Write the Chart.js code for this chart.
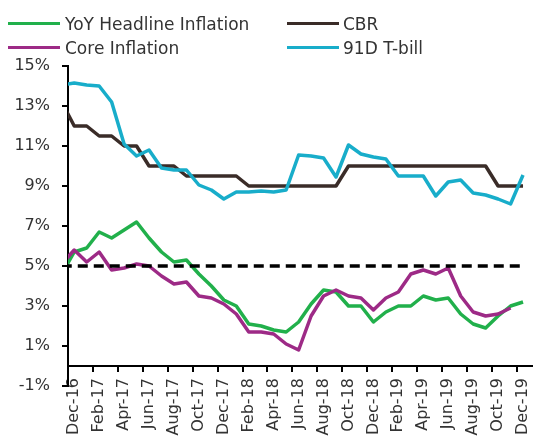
<!DOCTYPE html>
<html>
<head>
<meta charset="utf-8">
<script src="https://cdn.jsdelivr.net/npm/chart.js@4.4.1/dist/chart.umd.min.js"></script>
<style>
	html, body { margin: 0; padding: 0; background: #fff; }
	#wrap { position: relative; width: 533px; height: 440px; }
	#legend { position: absolute; left: 0; top: 0; font: 17px "DejaVu Sans", sans-serif; color: #333; }
	#legend .txt { position: absolute; white-space: nowrap; line-height: 20px; }
	#legend .swatch { position: absolute; height: 3.5px; width: 52px; }
</style>
</head>
<body>
<div id="wrap">
	<canvas id="inflation" width="533" height="440"></canvas>
	<div id="legend"></div>
</div>
<script>
// Nov-16 .. Dec-19, Nov-16 only feeds the clipped stub at the left edge
var months = [
	'Nov-16', 'Dec-16',
	'Jan-17', 'Feb-17', 'Mar-17', 'Apr-17', 'May-17', 'Jun-17', 'Jul-17', 'Aug-17', 'Sep-17', 'Oct-17', 'Nov-17', 'Dec-17',
	'Jan-18', 'Feb-18', 'Mar-18', 'Apr-18', 'May-18', 'Jun-18', 'Jul-18', 'Aug-18', 'Sep-18', 'Oct-18', 'Nov-18', 'Dec-18',
	'Jan-19', 'Feb-19', 'Mar-19', 'Apr-19', 'May-19', 'Jun-19', 'Jul-19', 'Aug-19', 'Sep-19', 'Oct-19', 'Nov-19', 'Dec-19'
];
var tickLabels = [ 'Dec-16', 'Feb-17', 'Apr-17', 'Jun-17', 'Aug-17', 'Oct-17', 'Dec-17', 'Feb-18', 'Apr-18', 'Jun-18',
	'Aug-18', 'Oct-18', 'Dec-18', 'Feb-19', 'Apr-19', 'Jun-19', 'Aug-19', 'Oct-19', 'Dec-19' ];

var headline = [ 4.6, 5.7,
	5.9, 6.7, 6.4, 6.8, 7.2, 6.4, 5.7, 5.2, 5.3, 4.6, 4.0, 3.3,
	3.0, 2.1, 2.0, 1.8, 1.7, 2.2, 3.1, 3.8, 3.7, 3.0, 3.0, 2.2,
	2.7, 3.0, 3.0, 3.5, 3.3, 3.4, 2.6, 2.1, 1.9, 2.5, 3.0, 3.2 ];
var core = [ 5.1, 5.8,
	5.2, 5.7, 4.8, 4.9, 5.1, 5.0, 4.5, 4.1, 4.2, 3.5, 3.4, 3.1,
	2.6, 1.7, 1.7, 1.6, 1.1, 0.8, 2.5, 3.5, 3.8, 3.5, 3.4, 2.8,
	3.4, 3.7, 4.6, 4.8, 4.6, 4.9, 3.5, 2.7, 2.5, 2.6, 2.9, null ];
var cbr = [ 13.2, 12,
	12, 11.5, 11.5, 11, 11, 10, 10, 10, 9.5, 9.5, 9.5, 9.5,
	9.5, 9, 9, 9, 9, 9, 9, 9, 9, 10, 10, 10,
	10, 10, 10, 10, 10, 10, 10, 10, 10, 9, 9, 9 ];
var tbill = [ 14.05, 14.15,
	14.05, 14.0, 13.2, 11.1, 10.5, 10.8, 9.9, 9.8, 9.8, 9.05, 8.8, 8.35,
	8.7, 8.7, 8.75, 8.7, 8.8, 10.55, 10.5, 10.4, 9.45, 11.05, 10.6, 10.45,
	10.35, 9.5, 9.5, 9.5, 8.5, 9.2, 9.3, 8.65, 8.55, 8.35, 8.1, 9.55 ];
var target = months.map( function () { return 5; } );

var legendNames = [ 'YoY Headline Inflation', 'CBR', 'Core Inflation', '91D T-bill' ];
var legendColors = [ '#21b04b', '#3a2c28', '#9d2a86', '#18adca' ];

// month index: Dec-16 = 0
function points( arr ) {
	return arr.map( function ( v, i ) { return { x: i - 1, y: v }; } );
}

function line( label, arr, color, order ) {
	return {
		label: label,
		data: points( arr ),
		borderColor: color,
		borderWidth: 3.5,
		borderJoinStyle: 'round',
		pointRadius: 0,
		tension: 0,
		fill: false,
		order: order
	};
}

var tickFont = { family: 'DejaVu Sans', size: 16 };

var ctx = document.getElementById( 'inflation' ).getContext( '2d' );
var chart = new Chart( ctx, {
	type: 'line',
	data: {
		datasets: [
			line( legendNames[ 0 ], headline, legendColors[ 0 ], 5 ),
			line( legendNames[ 2 ], core, legendColors[ 2 ], 4 ),
			line( legendNames[ 1 ], cbr, legendColors[ 1 ], 3 ),
			line( legendNames[ 3 ], tbill, legendColors[ 3 ], 2 ),
			{
				label: '5%',
				data: points( target ),
				borderColor: '#000',
				borderWidth: 3.5,
				borderDash: [ 10, 6 ],
				pointRadius: 0,
				fill: false,
				order: 1
			}
		]
	},
	options: {
		responsive: false,
		animation: false,
		layout: { padding: { top: 66, bottom: 54, left: 0, right: 0 } },
		plugins: {
			legend: { display: false },
			tooltip: { enabled: false }
		},
		scales: {
			x: {
				type: 'linear',
				position: { y: 0 },
				min: -0.5,
				max: 36.8,
				afterBuildTicks: function ( scale ) {
					scale.ticks = tickLabels.map( function ( t, k ) { return { value: -0.5 + 2 * k }; } );
				},
				afterFit: function ( scale ) {
					scale.paddingLeft = 0;
					scale.paddingRight = 0;
				},
				grid: { drawOnChartArea: false, drawTicks: true, tickLength: 5, color: '#000', lineWidth: 2 },
				border: { display: true, color: '#000', width: 2 },
				ticks: {
					autoSkip: false,
					minRotation: 90,
					maxRotation: 90,
					padding: 7,
					labelOffset: 6.2,
					color: '#333',
					font: tickFont,
					callback: function ( v, k ) { return tickLabels[ k ]; }
				}
			},
			y: {
				min: -1,
				max: 15,
				afterFit: function ( scale ) { scale.width = 68; },
				grid: { drawOnChartArea: false, tickLength: 6, color: '#000', lineWidth: 2 },
				border: { display: true, color: '#000', width: 2 },
				ticks: {
					stepSize: 2,
					padding: 12,
					color: '#333',
					font: tickFont,
					callback: function ( v ) { return v + '%'; }
				}
			}
		}
	}
} );

// two-column legend like the original
var legend = document.getElementById( 'legend' );
var swatchX = [ 8, 287 ], textX = [ 65, 343 ], rowY = [ 23.5, 47.5 ];
legendNames.forEach( function ( name, k ) {
	var col = k % 2, row = Math.floor( k / 2 );
	var sw = document.createElement( 'div' );
	sw.className = 'swatch';
	sw.style.left = swatchX[ col ] + 'px';
	sw.style.top = ( rowY[ row ] - 1.75 ) + 'px';
	sw.style.background = legendColors[ k ];
	legend.appendChild( sw );
	var tx = document.createElement( 'div' );
	tx.className = 'txt';
	tx.style.left = textX[ col ] + 'px';
	tx.style.top = ( rowY[ row ] - 9.7 ) + 'px';
	tx.textContent = name;
	legend.appendChild( tx );
} );
</script>
</body>
</html>
